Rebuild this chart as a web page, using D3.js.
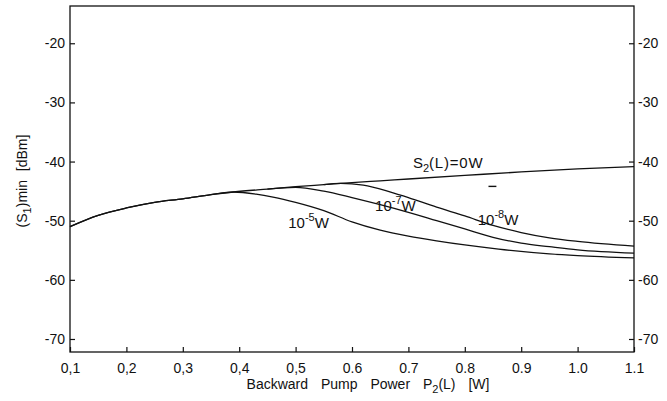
<!DOCTYPE html>
<html>
<head>
<meta charset="utf-8">
<script src="https://cdn.jsdelivr.net/npm/d3@7"></script>
<style>
  html, body { margin: 0; padding: 0; background: #fff; }
  text { font-family: "Liberation Sans", Arial, sans-serif; fill: #111; }
</style>
</head>
<body>
<div id="chart"></div>
<script>

// Data (x in W, y in dBm)
var xTicks = [0.1, 0.2, 0.3, 0.4, 0.5, 0.6, 0.7, 0.8, 0.9, 1.0, 1.1];
var xTickLabels = ['0,1', '0,2', '0,3', '0,4', '0,5', '0.6', '0.7', '0.8', '0.9', '1.0', '1.1'];
var yTicks = [-20, -30, -40, -50, -60, -70];

// part shared by every curve
var commonX = [0.10, 0.15, 0.20, 0.25, 0.30, 0.35, 0.39];
var commonY = [-51.0, -49.1, -47.85, -46.9, -46.3, -45.6, -45.15];

// S2(L) = 0 W
var s2X = [0.45, 0.50, 0.55, 0.60, 0.65, 0.70, 0.80, 0.90, 1.00, 1.10];
var s2Y = [-44.65, -44.25, -43.9, -43.55, -43.25, -42.95, -42.35, -41.75, -41.25, -40.85];

// 10^-5 W
var p5X = [0.43, 0.46, 0.50, 0.55, 0.60, 0.65, 0.70, 0.75, 0.80, 0.86, 0.95, 1.00, 1.10];
var p5Y = [-45.5, -46.0, -46.9, -48.3, -50.2, -51.6, -52.6, -53.4, -54.1, -54.8, -55.6, -55.9, -56.3];

// 10^-7 W
var p7X = [0.45, 0.50, 0.55, 0.60, 0.65, 0.70, 0.75, 0.80, 0.85, 0.90, 0.95, 1.00, 1.10];
var p7Y = [-44.65, -44.35, -45.0, -46.1, -47.3, -48.6, -50.0, -51.4, -52.8, -53.8, -54.4, -54.95, -55.5];

// 10^-8 W
var p8X = [0.55, 0.58, 0.62, 0.66, 0.70, 0.75, 0.80, 0.85, 0.90, 0.95, 1.00, 1.10];
var p8Y = [-43.9, -43.7, -44.0, -44.9, -46.1, -47.7, -49.2, -50.8, -52.0, -52.9, -53.5, -54.3];

// Exposed variables
var attrs = {
  svgWidth: 667,
  svgHeight: 401,
  plotLeft: 70,
  plotRight: 634,
  plotTop: 6,
  plotBottom: 352,
  xDomain: [0.1, 1.1],
  yDomain: [-72.2, -13.7],
  tickSize: 5,
  fontSize: 14,
  lineColor: '#111'
};

//Scales
var scales = {};
scales.x = d3.scaleLinear().domain(attrs.xDomain).range([attrs.plotLeft, attrs.plotRight]);
scales.y = d3.scaleLinear().domain(attrs.yDomain).range([attrs.plotBottom, attrs.plotTop]);

//Add svg
var svg = d3.select('#chart').append('svg')
  .attr('width', attrs.svgWidth)
  .attr('height', attrs.svgHeight);

//Frame
svg.append('rect')
  .attr('x', attrs.plotLeft)
  .attr('y', attrs.plotTop)
  .attr('width', attrs.plotRight - attrs.plotLeft)
  .attr('height', attrs.plotBottom - attrs.plotTop)
  .attr('fill', 'none')
  .attr('stroke', attrs.lineColor)
  .attr('stroke-width', 1.3);

//Axes, ticks pointing inside the frame
function styleAxis(g) {
  g.select('.domain').remove();
  g.selectAll('.tick line').attr('stroke', attrs.lineColor).attr('stroke-width', 1.2);
  g.selectAll('.tick text')
    .attr('font-size', attrs.fontSize)
    .attr('font-family', '"Liberation Sans", Arial, sans-serif')
    .attr('fill', '#111');
}

var yFormat = function (d) { return '-' + Math.abs(d); };

svg.append('g')
  .attr('transform', 'translate(' + attrs.plotLeft + ',0)')
  .call(d3.axisLeft(scales.y).tickValues(yTicks).tickSize(-attrs.tickSize).tickPadding(5).tickFormat(yFormat))
  .call(styleAxis);

svg.append('g')
  .attr('transform', 'translate(' + attrs.plotRight + ',0)')
  .call(d3.axisRight(scales.y).tickValues(yTicks).tickSize(-attrs.tickSize).tickPadding(4).tickFormat(yFormat))
  .call(styleAxis);

svg.append('g')
  .attr('transform', 'translate(0,' + attrs.plotBottom + ')')
  .call(d3.axisBottom(scales.x).tickValues(xTicks).tickSize(-attrs.tickSize).tickPadding(11)
    .tickFormat(function (d, i) { return xTickLabels[i]; }))
  .call(styleAxis);

//Axis titles
var xTitle = svg.append('text')
  .attr('x', 368)
  .attr('y', 389)
  .attr('text-anchor', 'middle')
  .attr('font-size', attrs.fontSize)
  .attr('word-spacing', 9);
xTitle.append('tspan').text('Backward Pump Power P');
xTitle.append('tspan').attr('font-size', 11).attr('dy', 4).text('2');
xTitle.append('tspan').attr('dy', -4).text('(L) [W]');

var yTitle = svg.append('text')
  .attr('transform', 'translate(27,181) rotate(-90)')
  .attr('text-anchor', 'middle')
  .attr('font-size', attrs.fontSize)
  .attr('word-spacing', 5);
yTitle.append('tspan').text('(S');
yTitle.append('tspan').attr('font-size', 11).attr('dy', 4).text('1');
yTitle.append('tspan').attr('dy', -4).text(')min [dBm]');

//Curves
function zipXY(xs, ys) {
  return xs.map(function (d, i) { return [d, ys[i]]; });
}

var series = [
  zipXY(commonX.concat(s2X), commonY.concat(s2Y)),
  zipXY(commonX.concat(p5X), commonY.concat(p5Y)),
  zipXY(p7X, p7Y),
  zipXY(p8X, p8Y)
];

var line = d3.line()
  .x(function (d) { return scales.x(d[0]); })
  .y(function (d) { return scales.y(d[1]); })
  .curve(d3.curveMonotoneX);

svg.append('g').selectAll('path')
  .data(series)
  .enter().append('path')
  .attr('d', line)
  .attr('fill', 'none')
  .attr('stroke', attrs.lineColor)
  .attr('stroke-width', 1.3);

//Curve labels
var labels = [
  { x: 0.708, y: -41.1, base: 'S', sub: '2', rest: '(L)=0W' },
  { x: 0.487, y: -51.25, base: '10', sup: '-5', rest: 'W' },
  { x: 0.641, y: -48.4, base: '10', sup: '-7', rest: 'W' },
  { x: 0.823, y: -50.7, base: '10', sup: '-8', rest: 'W' }
];

labels.forEach(function (d) {
  var t = svg.append('text')
    .attr('x', scales.x(d.x))
    .attr('y', scales.y(d.y))
    .attr('font-size', 15);
  t.append('tspan').text(d.base);
  if (d.sub) {
    t.append('tspan').attr('font-size', 11).attr('dy', 4).text(d.sub);
    t.append('tspan').attr('dy', -4).attr('letter-spacing', 0.8).text(d.rest);
  } else {
    t.append('tspan').attr('font-size', 11).attr('dy', -7).text(d.sup);
    t.append('tspan').attr('dy', 7).text(d.rest);
  }
});

//Small arrow mark left on the figure
var markX = [0.842, 0.856];
var markY = -44.2;
svg.append('line')
  .attr('x1', scales.x(markX[0]))
  .attr('x2', scales.x(markX[1]))
  .attr('y1', scales.y(markY))
  .attr('y2', scales.y(markY))
  .attr('stroke', attrs.lineColor)
  .attr('stroke-width', 1.4);

</script>
</body>
</html>
